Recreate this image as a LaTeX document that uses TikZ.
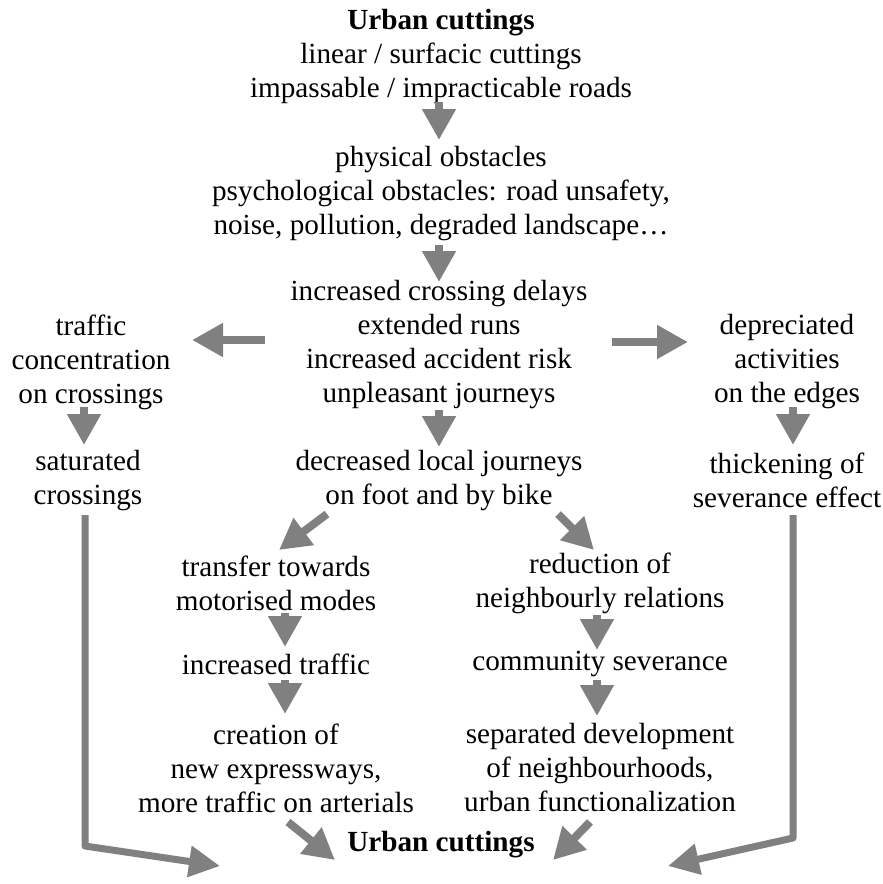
\documentclass[tikz,border=0pt]{standalone}
\usepackage{fontspec}
\setmainfont{Liberation Serif}
\usetikzlibrary{arrows.meta,calc}
\begin{document}
\begin{tikzpicture}[x=1pt,y=-1pt,
  txt/.style={align=center,inner sep=0pt,font=\fontsize{29.2}{34}\selectfont},
  arr/.style={draw=gray,line width=8pt,-{Triangle[length=31pt,width=32pt]}},
  longarr/.style={draw=gray,line width=7pt,line join=round,-{Triangle[length=31pt,width=30pt]}}]
\useasboundingbox (0,0) rectangle (883,884);
\node[txt] (top) at (441,56) {\textbf{Urban cuttings}\\linear / surfacic cuttings\\impassable / impracticable roads};
\node[txt] (phys) at (441,194) {physical obstacles\\psychological obstacles: road unsafety,\\noise, pollution, degraded landscape…};
\node[txt] (c4) at (439,345) {increased crossing delays\\extended runs\\increased accident risk\\unpleasant journeys};
\node[txt] (left3) at (91,362) {traffic\\concentration\\on crossings};
\node[txt] (right3) at (787,362) {depreciated\\activities\\on the edges};
\node[txt] (dec) at (439,481) {decreased local journeys\\on foot and by bike};
\node[txt] (sat) at (88,481) {saturated\\crossings};
\node[txt] (thick) at (787,480) {thickening of\\severance effect};
\node[txt] (transfer) at (276,583) {transfer towards\\motorised modes};
\node[txt] (reduc) at (600,583) {reduction of\\neighbourly relations};
\node[txt] (inct) at (276,664) {increased traffic};
\node[txt] (comm) at (600,664) {community severance};
\node[txt] (creat) at (276,768) {creation of\\new expressways,\\more traffic on arterials};
\node[txt] (sep) at (600,768) {separated development\\of neighbourhoods,\\urban functionalization};
\node[txt] (bot) at (441,845) {\textbf{Urban cuttings}};
% arrows
\draw[arr] ($(top)+(-2,46)$) -- ($(phys)+(-2,-54)$);
\draw[arr] ($(phys)+(-2,51)$) -- ($(c4)+(0,-63)$);
\draw[arr] ($(c4)+(0,65)$) -- ($(dec)+(0,-34)$);
\draw[arr] ($(c4)+(-174,-5)$) -- ($(left3)+(101,-22)$);
\draw[arr] ($(c4)+(173,-3)$) -- ($(right3)+(-99,-20)$);
\draw[arr] ($(left3)+(-7,45)$) -- ($(sat)+(-4,-36)$);
\draw[arr] ($(right3)+(6,45)$) -- ($(thick)+(6,-35)$);
\draw[arr] ($(dec)+(-112,33)$) -- ($(transfer)+(3,-33)$);
\draw[arr] ($(dec)+(119,33)$) -- ($(reduc)+(-6,-33)$);
\draw[arr] ($(transfer)+(9,30)$) -- ($(inct)+(9,-17)$);
\draw[arr] ($(reduc)+(-3,32)$) -- ($(comm)+(-3,-14)$);
\draw[arr] ($(inct)+(9,16)$) -- ($(creat)+(9,-54)$);
\draw[arr] ($(comm)+(-3,16)$) -- ($(sep)+(-3,-52)$);
\draw[arr] ($(creat)+(12,54)$) -- ($(bot)+(-106,15)$);
\draw[arr] ($(sep)+(-10,54)$) -- ($(bot)+(112,15)$);
\draw[longarr] ($(sat)+(-3,34)$) -- ($(sat)+(-3,365)$) -- ($(bot)+(-221,21)$);
\draw[longarr] ($(thick)+(6,35)$) -- ($(thick)+(6,358)$) -- ($(bot)+(227,21)$);
\end{tikzpicture}
\end{document}
